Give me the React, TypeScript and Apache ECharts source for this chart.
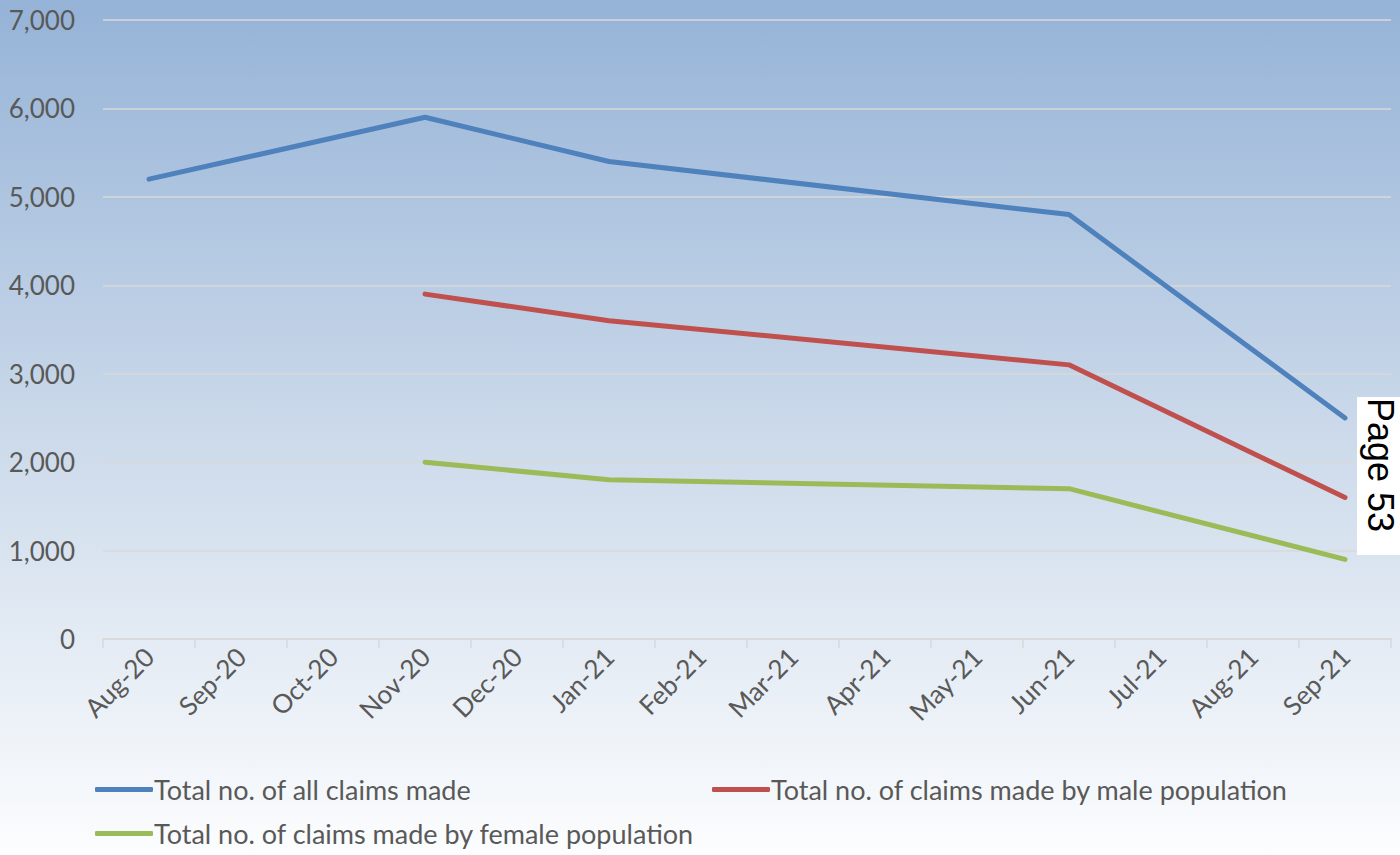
import React, { useEffect, useRef } from "react";
import * as echarts from "echarts";

const categories = ["Aug-20", "Sep-20", "Oct-20", "Nov-20", "Dec-20", "Jan-21", "Feb-21", "Mar-21", "Apr-21", "May-21", "Jun-21", "Jul-21", "Aug-21", "Sep-21"];
const allClaims = [5200, null, null, 5900, null, 5400, null, null, null, null, 4800, null, null, 2500];
const maleClaims = [null, null, null, 3900, null, 3600, null, null, null, null, 3100, null, null, 1600];
const femaleClaims = [null, null, null, 2000, null, 1800, null, null, null, null, 1700, null, null, 900];
const seriesNames = [
  "Total no. of all claims made",
  "Total no. of claims made by male population",
  "Total no. of claims made by female population",
];
const colors = ["#4f81bd", "#c0504d", "#9bbb59"];

const FONT = "Lato, 'Open Sans', sans-serif";

export default function App() {
  const ref = useRef<HTMLDivElement>(null);
  useEffect(() => {
    document.body.style.margin = "0";
    const chart = echarts.init(ref.current!, undefined, { renderer: "svg" });
    const mk = (name: string, data: (number | null)[], color: string) => ({
      name,
      type: "line",
      data,
      connectNulls: true,
      showSymbol: false,
      symbol: "none",
      lineStyle: { color, width: 5, cap: "round", join: "round" },
      itemStyle: { color },
    });
    const legendBase = {
      icon: "roundRect",
      itemWidth: 58,
      itemHeight: 5,
      padding: 0,
      textStyle: { fontFamily: FONT, fontSize: 27, color: "#595959", padding: [0, 0, 0, -4] },
    };
    chart.setOption({
      animation: false,
      backgroundColor: new echarts.graphic.LinearGradient(0, 0, 0, 1, [
        { offset: 0, color: "#95b3d7" },
        { offset: 0.5, color: "#cbd9ea" },
        { offset: 1, color: "#fcfdfe" },
      ]),
      grid: { left: 103, right: 9, top: 20, bottom: 216 },
      xAxis: {
        type: "category",
        data: categories,
        boundaryGap: true,
        axisLine: { show: true, lineStyle: { color: "#d9d9d9", width: 1.5 } },
        axisTick: { show: true, length: 9, lineStyle: { color: "#d9d9d9", width: 1.5 }, alignWithLabel: false },
        axisLabel: { rotate: 45, margin: 13, fontFamily: FONT, fontSize: 26, color: "#595959", interval: 0 },
      },
      yAxis: {
        type: "value",
        min: 0,
        max: 7000,
        interval: 1000,
        axisLine: { show: false },
        axisTick: { show: false },
        splitLine: { lineStyle: { color: "#d9d9d9", width: 1.5 } },
        axisLabel: {
          fontFamily: FONT,
          fontSize: 26,
          color: "#595959",
          margin: 28,
          formatter: (v: number) => v.toLocaleString("en-US"),
        },
      },
      legend: [
        { ...legendBase, data: [seriesNames[0]], left: 95, top: 776 },
        { ...legendBase, data: [seriesNames[1]], left: 712, top: 776 },
        { ...legendBase, data: [seriesNames[2]], left: 95, top: 820 },
      ],
      series: [
        mk(seriesNames[0], allClaims, colors[0]),
        mk(seriesNames[1], maleClaims, colors[1]),
        mk(seriesNames[2], femaleClaims, colors[2]),
      ],
      graphic: [
        {
          type: "rect",
          left: 1357,
          top: 397,
          shape: { width: 43, height: 158 },
          style: { fill: "#ffffff" },
          z: 100,
        },
        {
          type: "text",
          x: 1398,
          y: 398,
          rotation: -Math.PI / 2,
          style: {
            text: "Page 53",
            fontFamily: "'Liberation Sans', Arial, sans-serif",
            fontSize: 36,
            fill: "#000000",
            textAlign: "left",
            textVerticalAlign: "top",
          },
          z: 101,
        },
      ],
    });
    return () => chart.dispose();
  }, []);
  return <div ref={ref} style={{ width: 1400, height: 855 }} />;
}
